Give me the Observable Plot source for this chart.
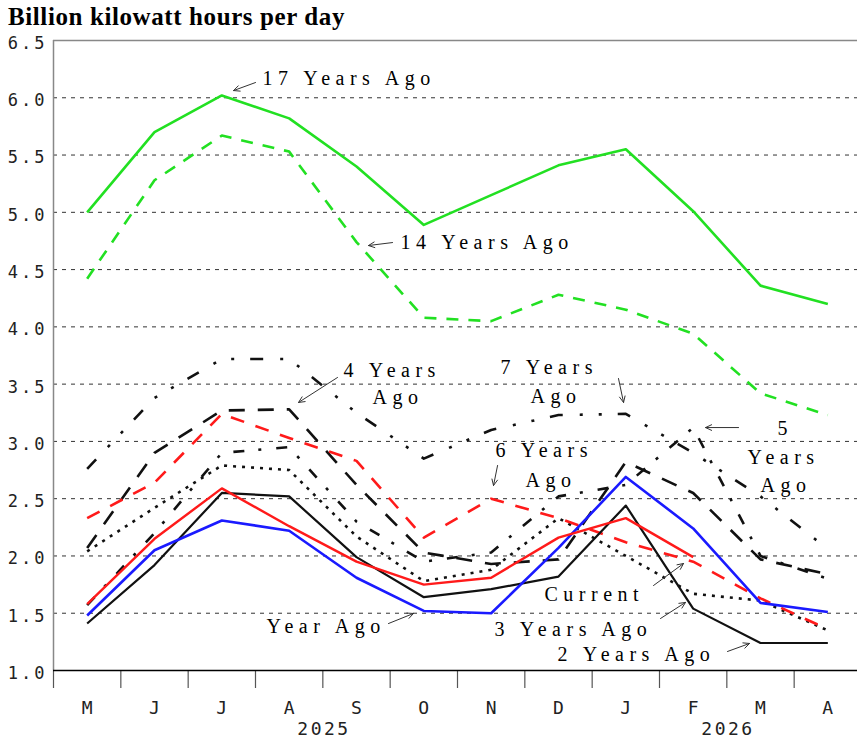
<!DOCTYPE html>
<html><head><meta charset="utf-8">
<script src="https://cdn.jsdelivr.net/npm/d3@7"></script>
<script src="https://cdn.jsdelivr.net/npm/@observablehq/plot@0.6"></script>
<style>
body{margin:0;background:#fff;}
#wrap{position:relative;width:857px;height:740px;overflow:hidden;background:#fff;}
#title{position:absolute;left:8px;top:4px;font:bold 25px "Liberation Serif","Times New Roman",serif;letter-spacing:0.6px;line-height:25px;white-space:nowrap;color:#000;}
g[aria-label="y-axis tick label"] text{letter-spacing:3px;}
g[aria-label="x-axis tick label"] text{letter-spacing:2.5px;}
</style></head>
<body><div id="wrap"><div id="title">Billion kilowatt hours per day</div></div>
<script>
// ---- data ----
const months = ["M","J","J","A","S","O","N","D","J","F","M","A"];
const yearLabels = ["2025","2026"];
const yearPositions = [3.5, 9.5];
const yTicks = [1.0,1.5,2.0,2.5,3.0,3.5,4.0,4.5,5.0,5.5,6.0,6.5];
const gridValues = [1.5,2.0,2.5,3.0,3.5,4.0,4.5,5.0,5.5,6.0];
const monthBounds = [-0.5,0.5,1.5,2.5,3.5,4.5,5.5,6.5,7.5,8.5,9.5,10.5];

const current           = [1.58, 2.15, 2.59, 2.26, 1.95, 1.75, 1.81, 2.16, 2.33, 1.99];
const yearAgo           = [1.48, 2.05, 2.31, 2.22, 1.81, 1.52, 1.50, 2.07, 2.69, 2.24, 1.59, 1.51];
const twoYearsAgo       = [1.41, 1.92, 2.55, 2.52, 1.99, 1.64, 1.71, 1.82, 2.44, 1.54, 1.24, 1.24];
const threeYearsAgo     = [2.04, 2.42, 2.79, 2.75, 2.17, 1.78, 1.88, 2.33, 2.00, 1.67, 1.61, 1.35];
const fourYearsAgo      = [2.07, 2.90, 3.27, 3.28, 2.62, 2.03, 1.93, 1.97, 2.82, 2.55, 1.97, 1.84];
const fiveYearsAgo      = [1.57, 2.20, 2.90, 2.95, 2.30, 1.95, 2.03, 2.52, 2.62, 3.12, 2.00, 1.80];
const sixYearsAgo       = [2.33, 2.64, 3.24, 3.03, 2.83, 2.16, 2.50, 2.33, 2.12, 1.95, 1.63, 1.36];
const sevenYearsAgo     = [2.76, 3.38, 3.72, 3.72, 3.25, 2.85, 3.10, 3.23, 3.24, 2.90, 2.52, 2.06];
const fourteenYearsAgo  = [4.42, 5.28, 5.67, 5.53, 4.74, 4.08, 4.05, 4.28, 4.15, 3.94, 3.42, 3.23];
const seventeenYearsAgo = [5.00, 5.70, 6.02, 5.82, 5.40, 4.89, 5.15, 5.41, 5.55, 5.01, 4.36, 4.20];

const annotationLabels = ["17 Years Ago","14 Years Ago","4 Years","Ago","7 Years","Ago","5","Years","Ago","6 Years","Ago","Current","3 Years Ago","2 Years Ago","Year Ago"];
const annotationX = [2.604,4.654,3.807,4.238,6.139,6.584,10.253,9.807,10.0,6.065,6.51,6.792,6.05,6.985,2.663];
const annotationY = [6.164,4.732,3.619,3.383,3.645,3.392,3.113,2.860,2.615,2.921,2.659,1.663,1.353,1.135,1.384];

const arrowFromX = [2.5, 4.535, 3.718, 7.891, 9.674, 6.095, 8.411, 8.515, 9.510, 4.475];
const arrowFromY = [6.133, 4.736, 3.558, 3.549, 3.121, 2.790, 1.742, 1.454, 1.166, 1.410];
const arrowToX   = [2.174, 4.178, 3.139, 7.966, 9.184, 6.035, 8.857, 8.886, 9.837, 4.847];
const arrowToY   = [6.063, 4.710, 3.340, 3.340, 3.121, 2.615, 1.934, 1.594, 1.236, 1.498];

// ---- build ----
const pts = vals => vals.map((v, i) => ({i, v}));
const line = (vals, opts) => Plot.line(pts(vals), {x: "i", y: "v", strokeLinecap: "butt", strokeLinejoin: "round", ...opts});

const annotations = annotationLabels.map((t, k) => ({t, x: annotationX[k], y: annotationY[k]}));
const arrows = arrowFromX.map((_, k) => ({x1: arrowFromX[k], y1: arrowFromY[k], x2: arrowToX[k], y2: arrowToY[k]}));

const tickFont = "DejaVu Sans Mono";
const annotationFont = "Liberation Serif";

const chart = Plot.plot({
  width: 857,
  height: 740,
  marginLeft: 53,
  marginRight: -4,
  marginTop: 40,
  marginBottom: 70,
  x: {type: "linear", domain: [-0.5, 11.5], label: null},
  y: {domain: [1, 6.5], label: null},
  style: {background: "white"},
  marks: [
    Plot.ruleY(gridValues, {stroke: "#333", strokeWidth: 1, strokeDasharray: "4,5"}),
    Plot.ruleY([6.5], {stroke: "#888", strokeWidth: 1.5}),
    Plot.ruleX([-0.5], {stroke: "#888", strokeWidth: 1.5}),
    Plot.axisX(monthBounds, {tickSize: 18, tickFormat: () => "", stroke: "#555", strokeWidth: 1.2}),
    Plot.axisY(yTicks, {tickSize: 0, tickPadding: 6, dy: 3, tickFormat: d => d.toFixed(1), fontFamily: tickFont, fontSize: 17, fill: "#222"}),
    Plot.axisX(d3.range(12), {tickSize: 0, tickPadding: 31, dx: 1.2, tickFormat: i => months[i], fontFamily: tickFont, fontSize: 18, fill: "#222"}),
    Plot.axisX(yearPositions, {tickSize: 0, tickPadding: 52, dx: 1.2, tickFormat: d => yearLabels[yearPositions.indexOf(d)], fontFamily: tickFont, fontSize: 18, fill: "#222"}),
    Plot.ruleY([1], {stroke: "#000", strokeWidth: 1.5}),

    line(seventeenYearsAgo, {stroke: "#22e022", strokeWidth: 2.6}),
    line(fourteenYearsAgo, {stroke: "#22e022", strokeWidth: 2.6, strokeDasharray: "12,10"}),
    line(sevenYearsAgo, {stroke: "#111", strokeWidth: 2.6, strokeDasharray: "13,17,3,16,3,16"}),
    line(fiveYearsAgo, {stroke: "#111", strokeWidth: 2.6, strokeDasharray: "11,14,3,15"}),
    line(fourYearsAgo, {stroke: "#111", strokeWidth: 2.6, strokeDasharray: "16,13"}),
    line(threeYearsAgo, {stroke: "#111", strokeWidth: 2.6, strokeDasharray: "3,6"}),
    line(sixYearsAgo, {stroke: "#ff1a1a", strokeWidth: 2.6, strokeDasharray: "14,12"}),
    line(twoYearsAgo, {stroke: "#111", strokeWidth: 2.2}),
    line(yearAgo, {stroke: "#1a1aff", strokeWidth: 2.6}),
    line(current, {stroke: "#ff1a1a", strokeWidth: 2.4}),

    Plot.arrow(arrows, {x1: "x1", y1: "y1", x2: "x2", y2: "y2", stroke: "#333", strokeWidth: 1, headLength: 10, headAngle: 50}),
    Plot.text(annotations, {x: "x", y: "y", text: "t", textAnchor: "start", lineAnchor: "middle", fontFamily: annotationFont, fontSize: 20, fill: "#000"})
  ]
});
document.getElementById("wrap").prepend(chart);
// widen the annotation lettering like the reference
const labelSet = new Set(annotationLabels);
chart.querySelectorAll("text").forEach(t => {
  if (labelSet.has(t.textContent)) {
    t.style.letterSpacing = "5.5px";
    t.setAttribute("letter-spacing", "5.5");
  }
});
</script></body></html>
